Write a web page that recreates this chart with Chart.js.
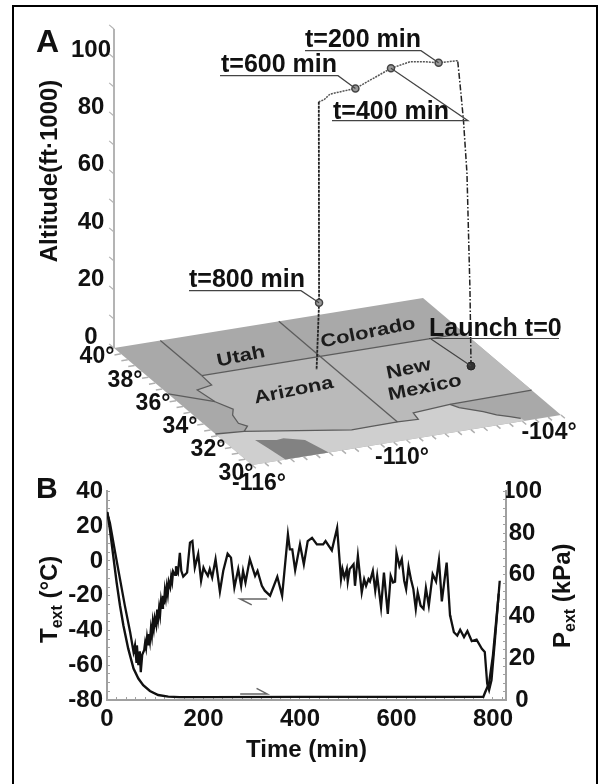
<!DOCTYPE html>
<html>
<head>
<meta charset="utf-8">
<script src="https://cdn.jsdelivr.net/npm/chart.js@4"></script>
<style>
    html, body { margin: 0; padding: 0; background: #fff; overflow: hidden; width: 598px; height: 784px; }
    canvas { position: absolute; left: 0; filter: blur(0.5px); }
    #map-chart { top: 0; }
    #time-chart { top: 470px; }
    #frame { position: absolute; left: 12px; top: 5px; width: 582px; height: 800px; border: 2.5px solid #000; }
</style>
</head>
<body>
<div id="frame"></div>
<canvas id="time-chart" width="598" height="300"></canvas>
<canvas id="map-chart" width="598" height="510"></canvas>
<script>
// Panel A: flight path (lon, lat, altitude in 1000 ft)
const ascentLon = [-105.05, -105.07, -105.16, -105.27, -105.39, -105.44];
const ascentLat = [34.56, 34.6, 34.65, 34.7, 34.75, 34.8];
const ascentAlt = [0, 26.1, 66.3, 84.6, 98.3, 104.9];
const cruiseLon = [-105.44, -106.09, -106.6, -107.07, -107.72, -108.31, -108.94, -109.81, -110.02, -110.19];
const cruiseLat = [34.8, 34.97, 35.1, 35.21, 35.38, 35.52, 35.68, 35.9, 35.95, 36.0];
const cruiseAlt = [104.9, 104.4, 105, 105.2, 103.2, 100.1, 96.8, 95.2, 93.3, 92.7];
const descentLon = [-110.19, -110.18, -110.24];
const descentLat = [36.0, 36.0, 36.07];
const descentAlt = [92.7, 23.4, 0];
const markerLon = [-106.09, -107.72, -108.94, -110.18];
const markerLat = [34.97, 35.38, 35.68, 36.0];
const markerAlt = [104.4, 103.2, 96.8, 23.4];
const launchLon = [-105.05];
const launchLat = [34.56];

// Panel A: map outlines
const arizonaNmLon = [-114.2, -104, -104, -107.21, -108.74, -108.82, -109.6, -110.68, -111.4, -114.96, -114.65, -114.84, -114.71, -114.47, -114.77, -114.9, -114.24];
const arizonaNmLat = [37, 37, 32.13, 32.06, 31.86, 31.35, 31.4, 31.38, 31.36, 32.51, 32.85, 33.15, 33.81, 34.22, 34.97, 36.02, 36.21];
const mexicoLon = [-116, -114.96, -111.4, -110.68, -109.6, -108.82, -108.74, -107.21, -107.04, -106.41, -106.1, -105.73, -105.44, -105.4, -116];
const mexicoLat = [32.65, 32.51, 31.36, 31.38, 31.4, 31.35, 31.86, 32.06, 31.71, 31.14, 30.75, 30.47, 30.23, 30, 30];
const gulfLon = [-114.94, -114.23, -113.95, -113.31, -113.02, -114.7, -114.83];
const gulfLat = [31.76, 31.51, 31.55, 31.18, 30, 30, 31.01];
const borderLines = [
    { lon: [-114.2, -114.2], lat: [40, 37] },
    { lon: [-109.6, -109.6], lat: [40, 37] },
    { lon: [-114.2, -109.6, -104], lat: [37, 37, 37] },
    { lon: [-109.6, -109.6], lat: [37, 31.4] },
    { lon: [-116, -114.77], lat: [36.07, 34.97] },
    { lon: [-116, -114.96], lat: [32.65, 32.51] },
    { lon: [-114.2, -114.24, -114.9, -114.77, -114.47, -114.71, -114.84, -114.65, -114.96, -111.4, -110.68, -109.6, -108.82, -108.74, -107.21, -104],
      lat: [37, 36.21, 36.02, 34.97, 34.22, 33.81, 33.15, 32.85, 32.51, 31.36, 31.38, 31.4, 31.35, 31.86, 32.06, 32.13] },
    { lon: [-107.21, -107.04, -106.41, -106.1, -105.73, -105.44], lat: [32.06, 31.71, 31.14, 30.75, 30.47, 30.23] }
];
const stateNames = ['Utah', 'Colorado', 'Arizona', 'New', 'Mexico'];
const stateLon = [-112.19, -107.14, -111.78, -107.21, -107.4];
const stateLat = [37.9, 38.13, 34.85, 35.05, 33.52];

// Panel A: axes
const altTicks = [0, 10, 20, 30, 40, 50, 60, 70, 80, 90, 100, 110];
const altLabels = [0, 20, 40, 60, 80, 100];
const latTicks = [30, 30.5, 31, 31.5, 32, 32.5, 33, 33.5, 34, 34.5, 35, 35.5, 36, 36.5, 37, 37.5, 38, 38.5, 39, 39.5, 40];
const lonTicks = [-116, -115.5, -115, -114.5, -114, -113.5, -113, -112.5, -112, -111.5, -111, -110.5, -110, -109.5, -109, -108.5, -108, -107.5, -107, -106.5, -106, -105.5, -105, -104.5, -104];

// Panel B: exterior temperature (deg C) and pressure (kPa) against time (min)
const tempTime = [0, 4, 6, 17, 27, 37, 48, 55, 58, 61, 62, 65, 68, 70, 73, 77, 79, 81, 83, 85, 87, 89, 91, 93, 95, 97, 99, 102, 104, 106, 108, 110, 112, 114, 116, 118, 120, 122, 124, 126, 128, 131, 133, 135, 137, 141, 143, 145, 147, 151, 154, 158, 166, 172, 177, 182, 189, 195, 200, 203, 209, 213, 218, 225, 234, 241, 250, 257, 264, 272, 278, 282, 287, 296, 307, 312, 321, 327, 338, 353, 363, 375, 379, 384, 390, 400, 408, 416, 425, 435, 448, 453, 466, 477, 485, 488, 492, 497, 499, 503, 511, 514, 520, 528, 533, 537, 542, 545, 551, 556, 560, 568, 574, 582, 588, 593, 597, 600, 606, 611, 616, 620, 625, 630, 635, 640, 644, 650, 656, 661, 667, 675, 682, 688, 694, 704, 711, 712, 719, 726, 732, 740, 747, 756, 766, 777, 783, 788, 792, 797, 804, 814];
const tempValues = [28, 24, 21.9, 4.7, -10.5, -25.7, -41, -52.4, -48.6, -58, -48.6, -60, -52, -64, -54, -51.4, -47, -50, -44, -48, -42, -46, -39, -43, -35, -39, -33, -37, -28, -33, -27, -31, -23, -27, -20, -25, -17, -21, -15, -19, -12, -15, -9, -12, -6, -8, -3, -6, -7, 4.7, -5.7, -9, -6.7, 10.5, 11.4, -3.8, 4, -11.4, -3.8, -5.7, -8.6, -4.7, -9.5, 1, -17.7, -5.7, 4.2, 1.9, -15.3, -4.7, -14.3, -5.7, -12.4, 1, -8.6, -5.7, -14.3, -17.1, -20, -9.1, -20, 15.3, 6.7, 6.7, -5.3, 9.5, -1.9, 11.4, 13.3, 9.5, 9.5, 11.4, 6.1, 19, -10.5, -4.7, -9.5, -4.7, -11.8, -4.7, -1.9, -14.3, 2.9, -18.1, -10.5, -14.3, -10.5, -11.8, -5.7, -17.1, -8.6, -26.7, -6.7, -30.5, -8.6, -12.4, -12, 4.7, -2.9, 1, -11.4, -16.2, -3.4, -10.5, -16.2, -27.6, -18.1, -25.7, -27.6, -15.6, -25.7, -7.6, -11.8, 0.4, -23.3, -1, -31.4, -32.4, -41, -42.9, -39.6, -43.8, -40.4, -46.1, -45.3, -50.5, -52.4, -70.5, -74.3, -68.6, -45.7, -11.4];
const pressTime = [0, 1, 6, 13, 20, 27, 34, 44, 55, 65, 75, 89, 106, 127, 150, 213, 400, 600, 780, 784, 792, 800, 812];
const pressValues = [90, 89.7, 81.9, 69, 56.3, 45.2, 35.7, 24.6, 15.1, 10.3, 7.1, 4.3, 2.4, 1.6, 1.4, 1.4, 1.5, 1.5, 1.5, 3.8, 8.1, 21.4, 51];
const tempArrowTime = [332, 276, 300];
const tempArrowValue = [-21.9, -21.9, -25.3];
const pressArrowTime = [276, 332, 310];
const pressArrowValue = [2.9, 2.9, 5.6];

const FONT = '"Liberation Sans", Arial, sans-serif';
const INK = '#111';

// oblique map projection, gives canvas coordinates for the scales of panel A
function project(lon, lat, alt) {
    const u = (lon + 116) / 12;
    const v = (40 - lat) / 10;
    return { x: 114 + 309 * u + 138 * v, y: 348 - 50 * u + 117 * v - 2.9 * (alt || 0) };
}

function pathPoints(lons, lats, alts) {
    return lons.map((lon, i) => project(lon, lats[i], alts ? alts[i] : 0));
}

function segments(pairs) {
    const points = [];
    pairs.forEach(pair => {
        points.push(pair[0], pair[1], { x: null, y: null });
    });
    return points;
}

function polygon(lons, lats, color) {
    return { data: pathPoints(lons, lats), showLine: true, fill: 'shape', backgroundColor: color, borderWidth: 0, pointRadius: 0 };
}

function line(points, color, width, dash) {
    return { data: points, showLine: true, fill: false, borderColor: color, borderWidth: width, borderDash: dash || [], pointRadius: 0, spanGaps: false };
}

const mapDatasets = [
    polygon([-116, -104, -104, -116], [40, 40, 30, 30], '#a9a9a9'),
    polygon(arizonaNmLon, arizonaNmLat, '#bababa'),
    polygon(mexicoLon, mexicoLat, '#cfcfcf'),
    polygon(gulfLon, gulfLat, '#828282'),
    ...borderLines.map(b => line(pathPoints(b.lon, b.lat), '#5c5c5c', 1.3)),
    line(segments(latTicks.map(lat => [project(-116, lat), project(-116.25, lat)])), '#b0b0b0', 1.5),
    line(segments(lonTicks.map(lon => [project(lon, 30), project(lon, 29.72)])), '#b0b0b0', 1.5),
    line(pathPoints([-116, -116], [40, 40], [0, 110]), '#b4b4b4', 2),
    line(segments(altTicks.map(alt => [project(-116, 40, alt), project(-116, 40.35, alt)])), '#b4b4b4', 1.2),
    line(pathPoints(ascentLon, ascentLat, ascentAlt), '#222', 1.5, [6, 2, 1.5, 2]),
    line(pathPoints(cruiseLon, cruiseLat, cruiseAlt), '#555', 1.5, [2, 1]),
    line(pathPoints(descentLon, descentLat, descentAlt), '#222', 1.8, [3, 1]),
    { data: pathPoints(markerLon, markerLat, markerAlt), showLine: false, pointRadius: 3.5, pointBackgroundColor: '#999', pointBorderColor: '#444', pointBorderWidth: 1.5 },
    { data: pathPoints(launchLon, launchLat), showLine: false, pointRadius: 4, pointBackgroundColor: '#333', pointBorderColor: '#222', pointBorderWidth: 1 }
];
mapDatasets.forEach((ds, i) => { ds.order = -i; });

// labels and leaders of panel A, leaders end on the flight markers
const callouts = [
    { text: 't=200 min', x: 305, y: 47, from: 305, to: 421, rule: 50.7, marker: 0 },
    { text: 't=400 min', x: 333, y: 119, from: 332, to: 468, rule: 120.7, marker: 1 },
    { text: 't=600 min', x: 221, y: 71.7, from: 220, to: 338, rule: 75.7, marker: 2 },
    { text: 't=800 min', x: 189, y: 286.7, from: 189, to: 301, rule: 290.7, marker: 3 }
];
const mapTickText = [
    { text: '40°', x: 97, y: 357 }, { text: '38°', x: 125, y: 381 }, { text: '36°', x: 153, y: 404 },
    { text: '34°', x: 180, y: 427 }, { text: '32°', x: 208, y: 450 }, { text: '30°', x: 236, y: 474 },
    { text: '-116°', x: 259, y: 484 }, { text: '-110°', x: 402, y: 458 }, { text: '-104°', x: 549, y: 433 }
];

const mapText = {
    id: 'mapText',
    afterDatasetsDraw(chart) {
        const ctx = chart.ctx;
        const sx = chart.scales.x;
        const sy = chart.scales.y;
        ctx.save();
        ctx.fillStyle = INK;
        ctx.textBaseline = 'middle';
        ctx.textAlign = 'center';

        ctx.font = `bold 24px ${FONT}`;
        altLabels.forEach(alt => {
            ctx.fillText(String(alt), 91, sy.getPixelForValue(project(-116, 40, alt).y) - 11 + alt * 0.03);
        });
        ctx.font = `bold 23px ${FONT}`;
        mapTickText.forEach(t => ctx.fillText(t.text, t.x, t.y));

        stateNames.forEach((name, i) => {
            const p = project(stateLon[i], stateLat[i]);
            ctx.save();
            ctx.translate(sx.getPixelForValue(p.x), sy.getPixelForValue(p.y));
            ctx.rotate(-0.2);
            ctx.scale(1, 0.82);
            ctx.font = `bold 22px ${FONT}`;
            ctx.fillStyle = '#1c1c1c';
            ctx.fillText(name, 0, 0);
            ctx.restore();
        });

        ctx.strokeStyle = '#444';
        ctx.lineWidth = 1.2;
        callouts.forEach(c => {
            const m = project(markerLon[c.marker], markerLat[c.marker], markerAlt[c.marker]);
            ctx.beginPath();
            ctx.moveTo(c.from, c.rule);
            ctx.lineTo(c.to, c.rule);
            ctx.lineTo(sx.getPixelForValue(m.x), sy.getPixelForValue(m.y));
            ctx.stroke();
        });
        const launch = project(launchLon[0], launchLat[0]);
        ctx.beginPath();
        ctx.moveTo(429, 338.5);
        ctx.lineTo(559, 338.5);
        ctx.moveTo(431, 339);
        ctx.lineTo(sx.getPixelForValue(launch.x), sy.getPixelForValue(launch.y));
        ctx.stroke();

        ctx.textAlign = 'left';
        ctx.textBaseline = 'alphabetic';
        ctx.font = `bold 25px ${FONT}`;
        callouts.forEach(c => ctx.fillText(c.text, c.x, c.y));
        ctx.fillText('Launch t=0', 429, 336);

        ctx.font = `bold 32px ${FONT}`;
        ctx.fillText('A', 36, 52);
        ctx.font = `bold 30px ${FONT}`;
        ctx.fillText('B', 36, 498);

        ctx.save();
        ctx.translate(57, 171);
        ctx.rotate(-Math.PI / 2);
        ctx.textAlign = 'center';
        ctx.font = `bold 24px ${FONT}`;
        ctx.fillText('Altitude(ft·1000)', 0, 0);
        ctx.restore();
        ctx.restore();
    }
};

// rotated axis title with a subscript
function drawSubTitle(ctx, x, y, head, sub, tail) {
    ctx.save();
    ctx.translate(x, y);
    ctx.rotate(-Math.PI / 2);
    ctx.textAlign = 'left';
    ctx.fillStyle = INK;
    let pos = 0;
    ctx.font = `bold 24px ${FONT}`;
    ctx.fillText(head, pos, 0);
    pos += ctx.measureText(head).width;
    ctx.font = `bold 16px ${FONT}`;
    ctx.fillText(sub, pos, 5);
    pos += ctx.measureText(sub).width;
    ctx.font = `bold 24px ${FONT}`;
    ctx.fillText(tail, pos, 0);
    ctx.restore();
}

const sideTitles = {
    id: 'sideTitles',
    afterDraw(chart) {
        drawSubTitle(chart.ctx, 57, 173, 'T', 'ext', ' (°C)');
        drawSubTitle(chart.ctx, 570, 178, 'P', 'ext', ' (kPa)');
    }
};

function pairs(xs, ys) {
    return xs.map((x, i) => ({ x: x, y: ys[i] }));
}

function curve(xs, ys, axis, color, width) {
    return { data: pairs(xs, ys), yAxisID: axis, showLine: true, borderColor: color, borderWidth: width, pointRadius: 0, tension: 0 };
}

function everyTwenty(value) {
    return value % 20 === 0 ? String(value) : '';
}

const axisColor = '#a0a0a0';
const tickFont = { family: FONT, size: 24, weight: 'bold' };

new Chart(document.getElementById('map-chart'), {
    type: 'scatter',
    data: { datasets: mapDatasets },
    options: {
        responsive: false,
        animation: false,
        layout: { padding: 0, autoPadding: false },
        plugins: { legend: { display: false }, tooltip: { enabled: false } },
        scales: {
            x: { display: false, min: 0, max: 598 },
            y: { display: false, min: 0, max: 510, reverse: true }
        }
    },
    plugins: [mapText]
});

new Chart(document.getElementById('time-chart'), {
    type: 'scatter',
    data: {
        datasets: [
            curve(tempTime, tempValues, 'yT', INK, 2.3),
            curve(pressTime, pressValues, 'yP', INK, 2.4),
            curve(tempArrowTime, tempArrowValue, 'yT', '#666', 1.5),
            curve(pressArrowTime, pressArrowValue, 'yP', '#666', 1.5)
        ]
    },
    options: {
        responsive: false,
        animation: false,
        layout: { padding: { top: 20 }, autoPadding: false },
        plugins: { legend: { display: false }, tooltip: { enabled: false } },
        scales: {
            x: {
                type: 'linear',
                min: 0,
                max: 827,
                afterFit(scale) { scale.height = 70; },
                border: { color: axisColor, width: 2 },
                grid: { drawOnChartArea: false, tickLength: -3, tickColor: axisColor },
                title: { display: true, text: 'Time (min)', color: INK, font: tickFont, padding: { top: 0, bottom: 5 } },
                ticks: {
                    stepSize: 20,
                    includeBounds: false,
                    autoSkip: false,
                    maxRotation: 0,
                    padding: 8,
                    color: INK,
                    font: tickFont,
                    callback(value) { return value % 200 === 0 ? String(value) : ''; }
                }
            },
            yT: {
                type: 'linear',
                position: 'left',
                min: -80,
                max: 40,
                afterFit(scale) { scale.width = 107; },
                border: { color: axisColor, width: 2 },
                grid: { drawOnChartArea: false, tickLength: -3, tickColor: axisColor },
                ticks: { stepSize: 5, autoSkip: false, padding: 7, color: INK, font: tickFont, callback: everyTwenty }
            },
            yP: {
                type: 'linear',
                position: 'right',
                min: 0,
                max: 100,
                afterFit(scale) { scale.width = 92; },
                border: { color: axisColor, width: 2 },
                grid: { drawOnChartArea: false, tickLength: -3, tickColor: axisColor },
                ticks: { stepSize: 4, autoSkip: false, padding: -1, crossAlign: 'center', color: INK, font: tickFont, callback: everyTwenty }
            }
        }
    },
    plugins: [sideTitles]
});
</script>
</body>
</html>
